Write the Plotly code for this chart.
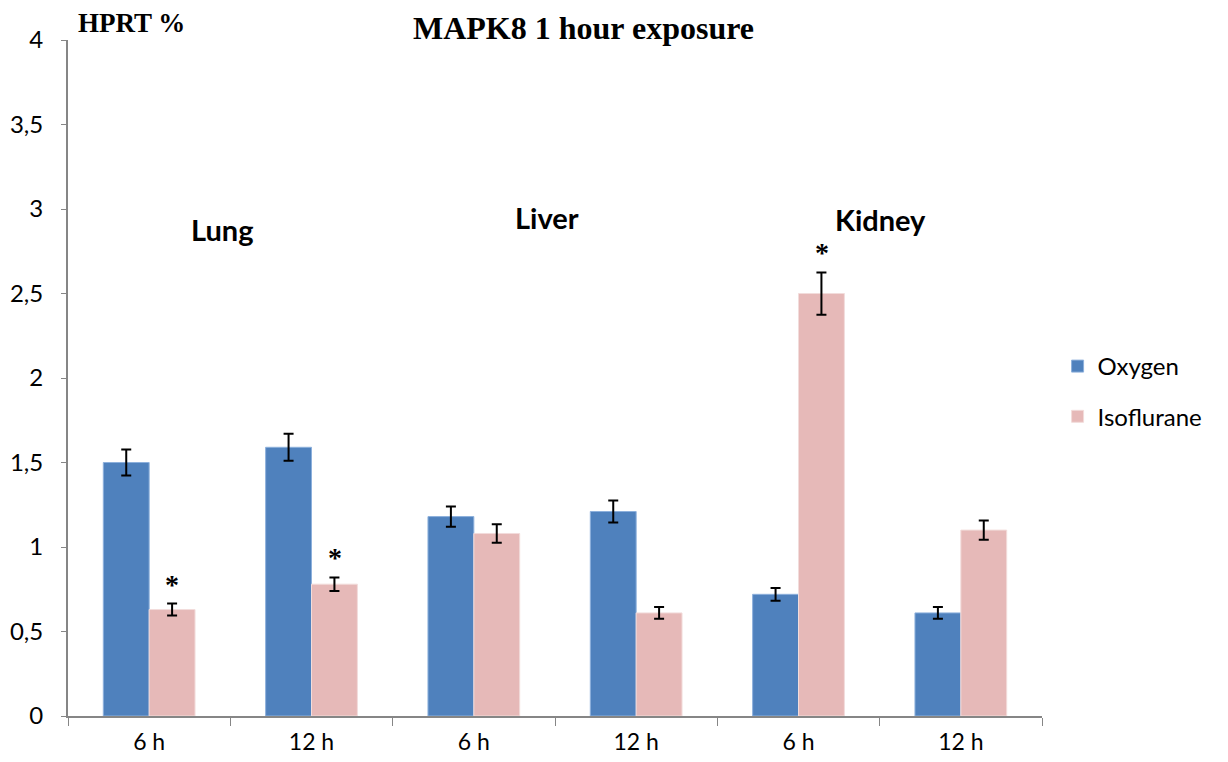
import plotly.graph_objects as go

organs = ["Lung", "Lung", "Liver", "Liver", "Kidney", "Kidney"]
times = ["6 h", "12 h", "6 h", "12 h", "6 h", "12 h"]
oxygen = [1.50, 1.59, 1.18, 1.21, 0.72, 0.61]
oxygen_err = [0.077, 0.08, 0.06, 0.065, 0.038, 0.035]
isoflurane = [0.63, 0.78, 1.08, 0.61, 2.50, 1.10]
isoflurane_err = [0.035, 0.04, 0.055, 0.035, 0.125, 0.057]
significant = [True, True, False, False, True, False]

group_labels = ["Lung", "Liver", "Kidney"]
group_x = [0.446, 2.45, 4.506]
group_y = [2.88, 2.95, 2.94]

cats = [f"{o} {t}" for o, t in zip(organs, times)]

font = "Lato, 'Open Sans', sans-serif"
serif = "'Liberation Serif', 'DejaVu Serif', serif"

# page has an 8px body margin, so the figure is a bit smaller than the window
W, H = 1212, 746
ML, MR, MT, MB = 60, 175, 32, 38
plot_w = W - ML - MR

fig = go.Figure()
fig.add_trace(go.Bar(
    x=cats, y=oxygen, name="Oxygen", legendgroup="o",
    marker=dict(color="#4F81BD", line=dict(color="#8DB0DC", width=1)),
    error_y=dict(type="data", array=oxygen_err, color="black", thickness=2, width=5),
))
fig.add_trace(go.Bar(
    x=cats, y=isoflurane, name="Isoflurane", legendgroup="i",
    marker=dict(color="#E6B9B8", line=dict(color="#F2DCDB", width=1)),
    error_y=dict(type="data", array=isoflurane_err, color="black", thickness=2, width=5),
))

# asterisks above significant isoflurane bars
for i, sig in enumerate(significant):
    if sig:
        fig.add_annotation(
            x=i, y=isoflurane[i] + isoflurane_err[i], xshift=23, yshift=2,
            text="<b>*</b>", showarrow=False, yanchor="bottom",
            font=dict(family=serif, size=28, color="black"),
        )

for lbl, gx, gy in zip(group_labels, group_x, group_y):
    fig.add_annotation(x=gx, y=gy, text=f"<b>{lbl}</b>", showarrow=False,
                       font=dict(family=font, size=29, color="black"))

fig.add_annotation(xref="paper", yref="paper", x=(585 - 68) / plot_w, y=1.0,
                   xanchor="center", yanchor="middle", yshift=12,
                   text="<b>MAPK8 1 hour exposure</b>", showarrow=False,
                   font=dict(family=serif, size=32, color="black"))
fig.add_annotation(xref="paper", yref="paper", x=(132 - 68) / plot_w, y=1.0,
                   xanchor="center", yanchor="middle", yshift=17,
                   text="<b>HPRT %</b>", showarrow=False,
                   font=dict(family=serif, size=27, color="black"))

fig.update_layout(
    width=W, height=H,
    margin=dict(l=ML, r=MR, t=MT, b=MB),
    plot_bgcolor="white", paper_bgcolor="white",
    barmode="group", bargap=0.435, bargroupgap=0,
    separators=", ",
    font=dict(family=font, size=23, color="black"),
    legend=dict(x=1.016, y=0.48, yanchor="middle", xanchor="left",
                traceorder="grouped", tracegroupgap=16,
                font=dict(family=font, size=24)),
    xaxis=dict(
        type="category", tickvals=cats, ticktext=times, tickson="boundaries",
        ticks="outside", ticklen=8, tickcolor="#868686",
        showline=True, linecolor="#868686", linewidth=2, showgrid=False,
        tickfont=dict(size=23), automargin=False, ticklabelstandoff=4,
    ),
    yaxis=dict(
        range=[0, 4], dtick=0.5, ticks="outside", ticklen=5, tickcolor="#868686",
        showline=True, linecolor="#868686", linewidth=2, showgrid=False,
        zeroline=False, tickfont=dict(size=24), ticklabelstandoff=13,
        automargin=False,
    ),
)

fig.write_html("out.html")
